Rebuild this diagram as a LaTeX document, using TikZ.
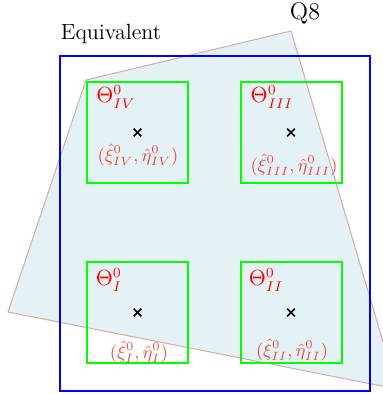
\documentclass[tikz,border=0pt]{standalone}
\usetikzlibrary{shapes.misc}
\definecolor{quadfill}{RGB}{228,242,246}
\definecolor{quadline}{RGB}{214,170,170}
\definecolor{coordred}{RGB}{240,70,70}
\begin{document}
\begin{tikzpicture}[x=0.5pt,y=-0.5pt,
  cell/.style={draw=green, line width=1pt, minimum width=50.5pt, minimum height=50.5pt, inner sep=0pt, outer sep=0pt},
  frame/.style={draw=blue, line width=1pt, minimum width=155pt, minimum height=167.5pt, inner sep=0pt, outer sep=0pt},
  crossmark/.style={cross out, draw=black, line width=0.8pt, minimum size=3pt, inner sep=0pt},
  thetalbl/.style={text=red, inner sep=0pt, font=\fontsize{10.5}{12}\selectfont},
  coordlbl/.style={text=coordred, inner sep=0pt, font=\fontsize{9}{11}\selectfont},
  titlelbl/.style={inner sep=0pt, font=\fontsize{11}{13}\selectfont}]
\useasboundingbox (0,0) rectangle (383,394);
\clip (0,0) rectangle (383,394);
% quadrilateral Q8
\draw[fill=quadfill, draw=quadline, line width=0.5pt] (86,80) -- (291,31) -- (397,389) -- (8,312) -- cycle;
% equivalent frame
\node[frame] (equiv) at (215,223.5) {};
% cells
\node[cell] (boxIV) at (137.5,132.5) {};
\node[cell] (boxIII) at (291,132.5) {};
\node[cell] (boxI) at (137.5,312.5) {};
\node[cell] (boxII) at (291,312.5) {};
% centres
\node[crossmark] (cIV) at (boxIV.center) {};
\node[crossmark] (cIII) at (boxIII.center) {};
\node[crossmark] (cI) at (boxI.center) {};
\node[crossmark] (cII) at (boxII.center) {};
% labels
\node[titlelbl] (eqlabel) at (111,34) {Equivalent};
\node[titlelbl, font=\fontsize{12}{14}\selectfont] (q8) at (305,13) {Q8};
\node[thetalbl] (tIV) at (116,97) {$\Theta^0_{IV}$};
\node[thetalbl] (tIII) at (272,97) {$\Theta^0_{III}$};
\node[thetalbl] (tI) at (109,280) {$\Theta^0_{I}$};
\node[thetalbl] (tII) at (266,280) {$\Theta^0_{II}$};
\node[coordlbl] (pIV) at (138,155) {$(\hat{\xi}^0_{IV},\hat{\eta}^0_{IV})$};
\node[coordlbl] (pIII) at (294,165) {$(\hat{\xi}^0_{III},\hat{\eta}^0_{III})$};
\node[coordlbl] (pI) at (139,352) {$(\hat{\xi}^0_{I},\hat{\eta}^0_{I})$};
\node[coordlbl] (pII) at (292,350) {$(\hat{\xi}^0_{II},\hat{\eta}^0_{II})$};
\end{tikzpicture}
\end{document}
